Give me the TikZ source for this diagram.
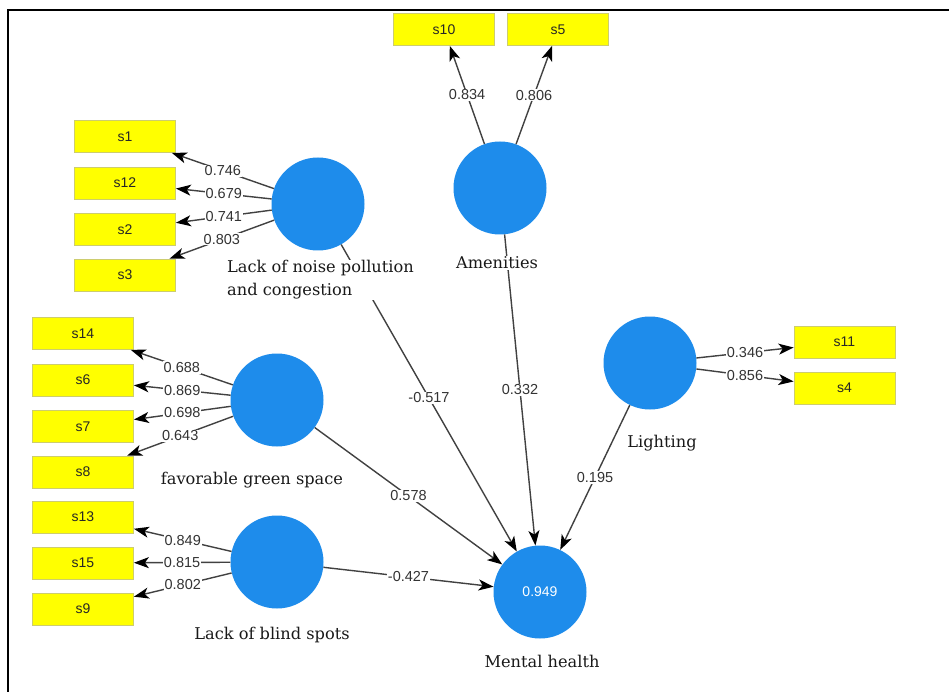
\documentclass[tikz,border=0pt]{standalone}
\usepackage{fontspec}
\setmainfont{DejaVu Serif}
\newfontfamily\numfont{Liberation Sans}
\usetikzlibrary{arrows.meta}
\definecolor{lvblue}{RGB}{30,140,235}
\definecolor{mvyellow}{RGB}{255,255,0}
\definecolor{mvborder}{RGB}{205,205,110}
\definecolor{linegray}{RGB}{65,65,65}
\tikzset{
  x=1pt,y=-1pt,
  latent/.style={circle,fill=lvblue,minimum size=93pt,inner sep=0pt},
  mvbox/.style={rectangle,fill=mvyellow,draw=mvborder,line width=0.8pt,minimum width=101pt,minimum height=32pt,inner sep=0pt,font=\numfont\fontsize{14}{16}\selectfont,text=black!85},
  conn/.style={draw=linegray,line width=1.4pt,-{Stealth[length=15pt,width=11pt,inset=4pt,color=black]}},
  wt/.style={fill=white,inner sep=1pt,font=\numfont\fontsize{14.5}{16}\selectfont,text=black!80},
  lvlabel/.style={fill=white,inner sep=1pt,font=\fontsize{16.2}{23}\selectfont,text=black!90}
}
\begin{document}
\begin{tikzpicture}
\useasboundingbox (0,0) rectangle (949,692);
\fill[white] (0,0) rectangle (949,692);
\draw[line width=2pt,black] (8,692) -- (8,10) -- (949,10);

% latent variables
\node[latent] (noise) at (318,204) {};
\node[latent] (amen) at (500,188) {};
\node[latent] (green) at (277,400) {};
\node[latent] (blind) at (277,562) {};
\node[latent] (light) at (650,363) {};
\node[latent] (mh) at (540,592) {\numfont\fontsize{14}{16}\selectfont\color{white}0.949};

% indicators
\node[mvbox] (s1) at (125,136.5) {s1};
\node[mvbox] (s12) at (125,183) {s12};
\node[mvbox] (s2) at (125,229.5) {s2};
\node[mvbox] (s3) at (125,275) {s3};
\node[mvbox] (s14) at (83,333.5) {s14};
\node[mvbox] (s6) at (83,380) {s6};
\node[mvbox] (s7) at (83,426.5) {s7};
\node[mvbox] (s8) at (83,472) {s8};
\node[mvbox] (s13) at (83,517) {s13};
\node[mvbox] (s15) at (83,563) {s15};
\node[mvbox] (s9) at (83,609) {s9};
\node[mvbox] (s10) at (444,29.5) {s10};
\node[mvbox] (s5) at (558,29.5) {s5};
\node[mvbox] (s11) at (844.5,342) {s11};
\node[mvbox] (s4) at (844.5,388) {s4};

% structural paths
\draw[conn] (noise) -- (mh) node[midway,wt] {-0.517};
\draw[conn] (amen) -- (mh) node[midway,wt] {0.332};
\draw[conn] (green) -- (mh) node[midway,wt] {0.578};
\draw[conn] (blind) -- (mh) node[midway,wt] {-0.427};
\draw[conn] (light) -- (mh) node[midway,wt] {0.195};

% outer loadings
\draw[conn] (noise) -- (s1) node[midway,wt] {0.746};
\draw[conn] (noise) -- (s12) node[midway,wt] {0.679};
\draw[conn] (noise) -- (s2) node[midway,wt] {0.741};
\draw[conn] (noise) -- (s3) node[midway,wt] {0.803};
\draw[conn] (green) -- (s14) node[midway,wt] {0.688};
\draw[conn] (green) -- (s6) node[midway,wt] {0.869};
\draw[conn] (green) -- (s7) node[midway,wt] {0.698};
\draw[conn] (green) -- (s8) node[midway,wt] {0.643};
\draw[conn] (blind) -- (s13) node[midway,wt] {0.849};
\draw[conn] (blind) -- (s15) node[midway,wt] {0.815};
\draw[conn] (blind) -- (s9) node[midway,wt] {0.802};
\draw[conn] (amen) -- (s10) node[midway,wt] {0.834};
\draw[conn] (amen) -- (s5) node[midway,wt] {0.806};
\draw[conn] (light) -- (s11) node[midway,wt] {0.346};
\draw[conn] (light) -- (s4) node[midway,wt] {0.856};

% construct labels
\node[lvlabel,align=left,anchor=west] (lnoise) at (226,280) {Lack of noise pollution\\and congestion};
\node[lvlabel] (lamen) at (497,263) {Amenities};
\node[lvlabel] (lgreen) at (252,480) {favorable green space};
\node[lvlabel] (lblind) at (272,635) {Lack of blind spots};
\node[lvlabel] (llight) at (662,443) {Lighting};
\node[lvlabel] (lmh) at (542,661) {Mental health};
\end{tikzpicture}
\end{document}
